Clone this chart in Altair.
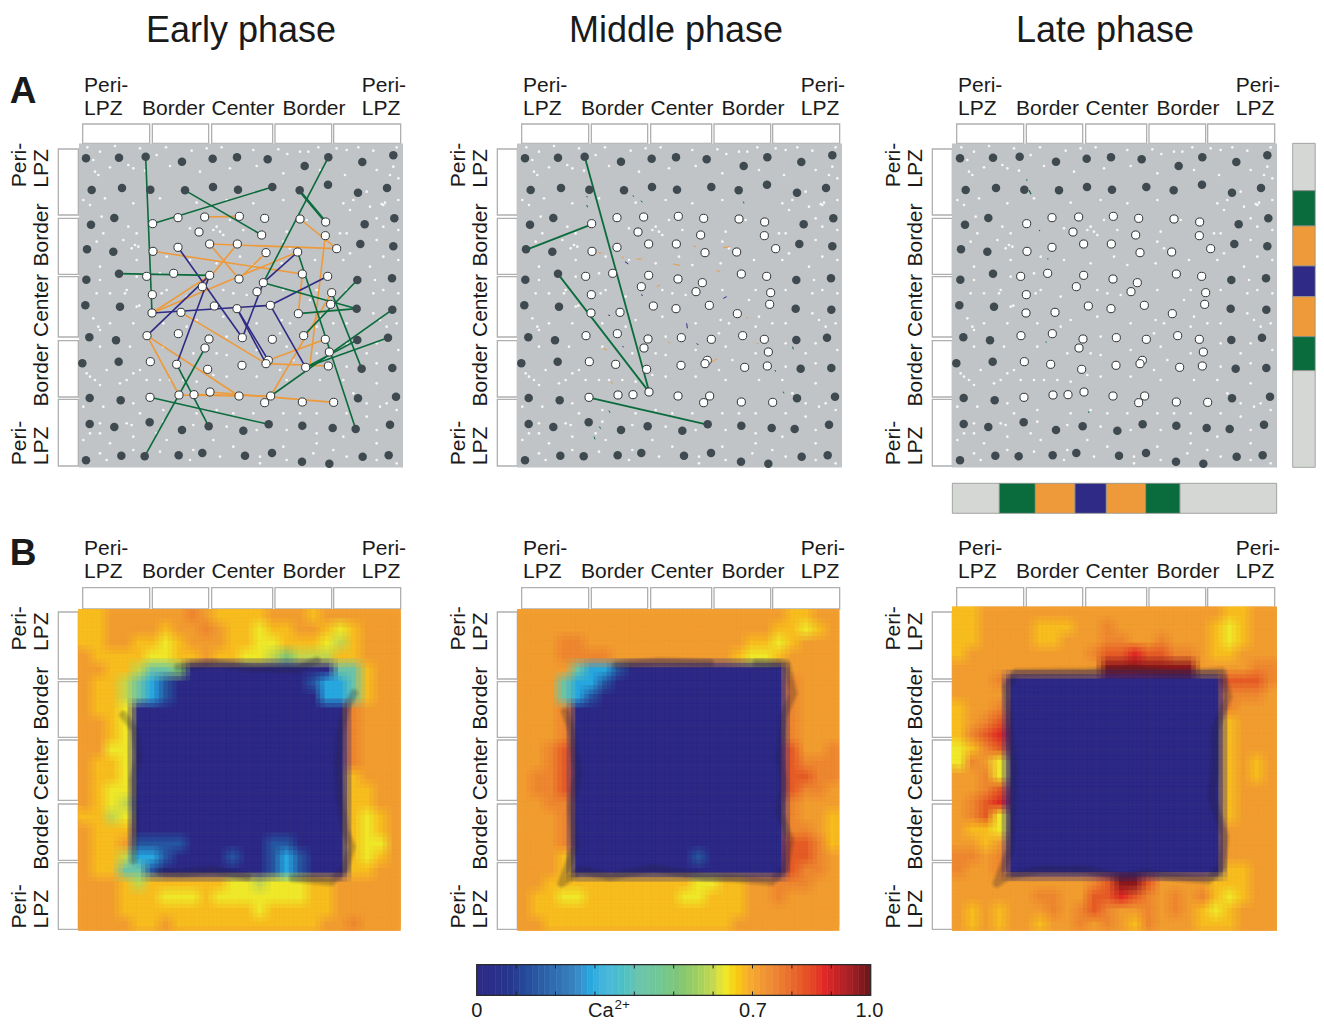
import altair as alt
import pandas as pd

# ---- values (A panels: zoomed reference units) ----
DARK = [(258,295),(357,293),(437,290),(546,305),(638,296),(711,292),(803,298),(914,318),(985,292),(1087,306),(1180,286),
(275,390),(366,384),(451,389),(555,391),(639,381),(714,389),(817,381),(899,391),(984,374),(1074,398),(1161,384),
(273,494),(343,474),(1094,493),(1183,475),(261,568),(340,575),(1081,552),(1180,559),
(259,659),(357,641),(1072,660),(1176,655),(256,736),(360,740),(1070,746),(1177,749),
(268,832),(348,841),(1072,840),(1164,833),(247,910),(356,905),(1085,926),(1177,924),
(269,1014),(362,1021),(1074,1015),(1188,1010),
(269,1092),(343,1101),(449,1087),(546,1110),(626,1099),(730,1112),(806,1093),(907,1097),(998,1104),(1067,1107),(1170,1094),
(258,1201),(364,1187),(434,1189),(536,1186),(607,1179),(735,1187),(816,1179),(906,1205),(988,1211),(1088,1190),(1166,1186)]
WHITE = [(458,491),(534,473),(614,471),(718,469),(794,475),(900,477),(977,486),(597,516),(785,525),(976,527),
(459,574),(534,562),(629,552),(712,552),(798,578),(893,576),(1010,566),
(440,649),(521,640),(629,646),(717,657),(790,668),(907,642),(983,649),(607,680),(771,695),(995,698),(457,704),
(456,759),(543,757),(643,738),(711,746),(811,736),(895,761),(992,733),
(441,827),(535,821),(627,837),(727,833),(817,838),(911,827),(976,838),(615,864),(988,876),
(451,905),(530,913),(623,928),(726,916),(805,901),(798,911),(917,922),(985,918),
(450,1012),(537,1005),(582,1004),(630,996),(717,1008),(812,1008),(794,1028),(907,1026),(1001,1027)]
SPECKS = [(285,335),(295,345),(385,315),(400,325),(280,300),(300,275),(420,265),(470,285),(620,265),(760,270),(900,275),(925,275),
(1010,265),(1040,270),(1150,435),(1155,428),(1145,432),(1170,345),(1180,320),(1110,440),(1060,420),(250,420),(270,435),
(405,555),(395,565),(415,560),(380,690),(375,700),(410,740),(418,737),(300,810),(295,800),(285,960),(270,950),(300,975),
(420,930),(400,940),(380,960),(360,970),(480,960),(640,945),(670,525),(660,515),(640,510),(690,480),(1050,450),(1150,690),
(1140,780),(1160,800),(1120,700),(1100,880),(1130,970),(1160,1030),(1140,1040),(1130,1150),(1100,1070),(1060,1000),(1000,1170),
(940,1180),(850,1160),(780,1190),(700,1160),(640,1140),(580,1170),(500,1140),(470,1120),(400,1130),(300,1120),(270,1120),
(250,1140),(300,1180),(330,1150),(380,1090),(420,1060),(720,590),(850,545),(870,565),(1030,600),(1020,520),(920,480),(845,780),
(870,790),(880,900),(840,930),(930,720),(960,770),(1000,790),(560,800),(500,690),(480,640),(700,700),(680,830),(650,880),
(550,960),(590,1060),(700,1060),(900,1060),(1040,1060),(1030,960),(350,480),(310,520),(410,600),(300,620),(330,700),(290,700),
(1110,620),(1130,540),(1150,500),
(262,262),(345,258),(498,262),(575,272),(665,262),(835,268),(862,282),(955,262),(1075,262),(1120,272),(1190,262),
(330,322),(435,332),(510,318),(600,335),(690,325),(770,318),(850,340),(960,330),(1035,345),(1130,330),(1195,355),
(315,415),(400,430),(480,415),(590,428),(680,420),(760,430),(850,420),(1030,430),(1100,395),(1195,420),
(305,470),(385,500),(410,520),(570,505),(650,500),(730,510),(860,515),(1040,520),(1130,475),(1195,510),
(290,545),(370,540),(500,590),(570,600),(650,610),(760,615),(845,610),(945,600),(1050,580),(1150,590),(1195,600),
(300,660),(410,650),(485,700),(560,710),(670,690),(740,705),(850,690),(950,690),(1040,690),(1125,660),(1195,700),
(280,775),(330,790),(400,790),(490,790),(590,780),(670,770),(770,790),(840,820),(950,800),(1040,790),(1120,760),(1190,790),
(300,860),(390,860),(490,860),(580,880),(680,885),(770,870),(860,860),(950,880),(1040,850),(1130,850),(1195,870),
(260,940),(320,930),(440,960),(510,960),(590,965),(680,950),(770,950),(860,960),(960,960),(1040,920),(1130,910),
(250,1040),(310,1040),(400,1030),(490,1050),(650,1050),(760,1060),(850,1060),(950,1060),(1100,1030),(1190,1050),
(300,1090),(395,1095),(490,1085),(580,1095),(680,1100),(770,1110),(860,1110),(950,1120),(1030,1130),(1130,1110),
(320,1200),(400,1170),(480,1175),(570,1200),(660,1190),(780,1210),(860,1200),(950,1150),(1040,1190),(1130,1200),(1190,1210)]

GREEN, ORANGE, BLUE = "#0a6b3c", "#ee9a3a", "#2e2a86"
GRAYSTRIP = "#d5d7d5"
EARLY_GREEN = [(437,290,456,759),(458,491,817,381),(555,391,785,525),(985,292,790,668),(357,641,629,646),
(790,668,1070,746),(895,761,1070,746),(893,576,1067,1107),(1072,660,911,827),(995,698,1085,926),(812,1008,1177,749),
(917,922,1164,833),(917,922,1072,840),(450,1012,806,1093),(530,913,626,1099),(615,864,434,1189)]
EARLY_GREEN_THICK = [(905,400,977,486)]
EARLY_ORANGE = [(614,471,718,469),(900,477,1010,566),(629,552,1010,566),(629,552,717,657),(712,552,607,680),(798,578,717,657),
(459,574,907,642),(456,759,629,646),(456,759,893,576),(543,757,798,911),(441,827,537,1005),(441,827,717,1008),
(537,1005,717,1008),(630,996,1001,1027),(582,1004,812,1008),(907,642,895,761),(976,527,930,915),(995,698,812,1008),
(805,901,976,838),(798,911,985,918)]
EARLY_BLUE = [(534,562,727,833),(629,646,530,913),(441,827,629,646),(456,759,811,736),(811,736,983,649),(790,668,893,576),
(790,668,727,833),(711,746,805,901),(711,746,798,911),(811,736,917,922)]
MID_GREEN = [(435,293,628,997),(455,493,260,569),(355,643,628,997),(448,1013,802,1094)]
MID_SPECK_ORANGE = [(475,578,485,580),(545,590,552,595),(590,597,605,597),(650,680,660,675),(760,558,768,560),(850,563,870,560),
(700,612,720,616),(830,632,840,634),(490,865,500,870),(512,965,518,972),(685,845,690,850),(815,905,830,897),(920,770,922,775),(950,850,955,852)]
MID_SPECK_BLUE = [(555,605,565,612),(505,765,510,767),(740,790,742,805),(770,850,775,855),(850,715,860,710),(548,858,550,862),(605,703,607,708)]
MID_SPECK_GREEN = [(440,408,442,412),(440,435,443,442),(578,407,582,410),(603,422,607,427),(910,425,912,430),(1058,860,1060,868),
(1030,995,1032,1000),(507,1052,510,1058),(478,1100,482,1106),(462,1130,465,1138),(1005,930,1007,935)]
LATE_SPECK_GREEN = [(440,358,441,362),(447,390,453,403),(625,1055,627,1058),(478,510,479,513),(503,595,504,598),(498,845,499,848)]

# Ca2+ level codes used in the B grids
LEVEL = {'b':0.0,'c':0.15,'d':0.29,'e':0.42,'g':0.52,'h':0.6,'y':0.63,'a':0.675,'o':0.715,'p':0.755,'r':0.82,'s':0.88,'m':0.97}
EARLY_GRID = ["aaoooooopoaaaaoooaoooooo","aaooooaoopoaayaaooayaooo","aaooaayaoooaayyaaayhaooo","oaaaayyaaoaayyhghhhaaooo",
"ooaaheegbbbbbbbbbbbeeaoo","oaahedcbbbbbbbbbbcddeaoo","oaahedcbbbbbbbbbbbddeaoo","oaaybbbbbbbbbbbbbbbbpooo",
"ooaybbbbbbbbbbbbbbbbpooo","ooaybbbbbbbbbbbbbbbbpooo","ooyybbbbbbbbbbbbbbbbpooo","oaaybbbbbbbbbbbbbbbbpooo",
"oaaybbbbbbbbbbbbbbbbaooo","oayybbbbbbbbbbbbbbbbaaoo","oayhbbbbbbbbbbbbbbbbaaoo","aahybbbbbbbbbbbbbbbbayao",
"oaaabbbbbbbbbbbbbbbbayao","oaaoccccbbbbbbccbbbbayyo","oaahddcbbbbcbbcdcbbbayao","oaaeecbbbbbbbbcdcbbbaaoo",
"oooahaaaaaayyhyyyaaooooo","oooaaayyyayyyyyyyaaooooo","oooaaaaaaaaaayaaaaaooooo","ooooaaoaaaaaaaaaaaoopooo"]
MIDDLE_GRID = ["ooooooooooooooooooooaaoo","oooooooooooooooooooaayao","oooppooooooooooooaayaooo","oooppppoooooooooayyaoooo",
"ooooeddcbbbbbbbbbbbboooo","oooeddcbbbbbbbbbbbbbpooo","oooedcbbbbbbbbbbbbbbpooo","ooopbbbbbbbbbbbbbbbbpooo",
"ooopbbbbbbbbbbbbbbbbpooo","ooopbbbbbbbbbbbbbbbbpooo","ooprbbbbbbbbbbbbbbbbroop","ooprbbbbbbbbbbbbbbbbrppp",
"opprbbbbbbbbbbbbbbbbrrpp","opprbbbbbbbbbbbbbbbbrppo","ooppbbbbbbbbbbbbbbbbpooo","ooopbbbbbbbbbbbbbbbbpooa",
"ooopbbbbbbbbbbbbbbbbppoa","ooopbbbbbbbbbbbbbbbbrrpa","oooabbbbbbbbbcbbbbbbrrpo","oooabbbbbbbbbbbbbbbbrppo",
"ooaaaaaaaaaaayyaaoopppoo","oaayyaaaaaaayyaaaoopoooo","oaaaaaaaaaaaaaaaaooooooo","ooaaaaaaaaaaaaaaoooooooo"]
LATE_GRID = ["aaooooooooooooooooooaaoo","aaooooaaaoopoooooooayaoo","aaooooaaoooppoopoooayaoo","aoooooooooprrsrrppoaaooo",
"ooooooooooommmmmmmoooopp","ooopbbbbbbbbbbbbbbbbrrrp","oooobbbbbbbbbbbbbbbbpppo","aoopbbbbbbbbbbbbbbbbpooo",
"aoprbbbbbbbbbbbbbbbbaooo","aprsbbbbbbbbbbbbbbbbaooo","yaprbbbbbbbbbbbbbbbbaooo","ypoybbbbbbbbbbbbbbbbaoao",
"oopybbbbbbbbbbbbbbbbaoao","ooprbbbbbbbbbbbbbbbbaooo","oprsbbbbbbbbbbbbbbbbaooo","oprybbbbbbbbbbbbbbbbaooo",
"oaaybbbbbbbbbbbbbbbboooo","ooaobbbbbbbbbbbbbbbboooo","ppopbbbbbbbbbbbbbbbboooo","poopbbbbbbbbbbbbbbbbaaoo",
"ooooooooooprmmrooooaaaoo","ooooooppoorrsrpopopayaoo","oaoaooopoprpoopopoayaooo","oaoaooaoopopoapoooaaaooo"]

# dark rim of the low-Ca square (zoomed units), one list per unbroken stretch
EARLY_RIM = [[(535,412),(640,400),(760,415),(890,418),(950,392)],
 [(1062,490),(1040,530),(1020,610),(1015,700),(1020,800),(1035,900),(1055,950),(1035,1015),(995,1055),(880,1045)],
 [(740,1040),(640,1020),(540,1030),(480,1025)],
 [(400,990),(405,850),(400,750),(415,680),(405,600),(370,555)]]
MIDDLE_RIM = [[(530,405),(660,395),(810,400)],
 [(950,400),(1040,405),(1060,490),(1030,560),(1020,680),(1030,760),(1020,850),(1050,930),(1035,1015),(995,1055),(880,1045),(790,1040),(640,1015),(510,1040),(420,1020),(365,1060),(405,950),(395,830),(412,730),(395,600),(375,545)]]
LATE_RIM = [[(410,428),(620,425),(750,418),(890,430),(1025,425),(1045,500),(1005,600),(1005,700),(995,800),(1035,920),(1025,1010),(985,1050),(880,1040),(790,1030),(720,1040),(620,1020),(480,1020),(380,1040),(350,1060),(390,960),(395,850),(400,720),(390,600),(380,470),(410,428)]]

CA_STOPS = [0,0.08,0.16,0.25,0.29,0.33,0.42,0.52,0.6,0.63,0.665,0.7,0.75,0.8,0.88,0.95,1.0]
CA_COLORS = ["#2e2a86","#27348b","#2a5ca5","#3a85c0","#27a9e1","#4db8dc","#70c5a8","#84c672","#c4d84f","#f1e92a","#f8c515",
             "#f4a732","#ee8a33","#ea6a2b","#e12a26","#a51f24","#6b1418"]

TOP_BOXES = [(248,449),(457,626),(635,818),(825,995),(1001,1202)]
LEFT_BOXES = [(267,465),(475,643),(650,831),(842,1011),(1018,1218)]
LEFT_BOXES_B = [(246,447),(455,622),(630,811),(822,991),(998,1198)]
STRIP_V = [250,392,498,618,710,830,932,1222]
STRIP_H = [217,358,466,585,679,797,900,1190]
STRIP_COLORS = [GRAYSTRIP,GREEN,ORANGE,BLUE,ORANGE,GREEN,GRAYSTRIP]
PANEL_A = [("Early",79,403),("Middle",517,842),("Late",952,1277)]
PANEL_B = [(78.3,400.7,609.3,930.7,EARLY_GRID,EARLY_RIM,0),(517.3,839.3,609.3,930.7,MIDDLE_GRID,MIDDLE_RIM,440),(952,1277,606.7,930.7,LATE_GRID,LATE_RIM,880)]
TITLES = [("Early phase",241),("Middle phase",676),("Late phase",1105)]
DX_A = [0,439,874]
TOP_LABELS = [("Peri-",84,86,"left"),("LPZ",84,109,"left"),("Border",173.5,109,"center"),("Center",243,109,"center"),("Border",314,109,"center"),("Peri-",361.7,86,"left"),("LPZ",361.7,109,"left")]
LEFT_LABELS = [("Peri-",20,165),("LPZ",41.5,168.5),("Border",41.5,235),("Center",41.5,305.5),("Border",41.5,375),("Peri-",20,443),("LPZ",41.5,446)]
BAR_TICKS = [0.1,0.2,0.3,0.4,0.5,0.6,0.7,0.8,0.9]
BAR_LABELS = [("0",476.7),("0.7",753),("1.0",869.5)]

# ---- scales mapping reference pixels through the plot area ----
xs = alt.Scale(domain=[8,1316], range=[0,1308], nice=False, zero=False)
ys = alt.Scale(domain=[8,1021], range=[0,1013], nice=False, zero=False)
X = alt.X("x:Q", scale=xs, axis=None); Y = alt.Y("y:Q", scale=ys, axis=None)
X2 = alt.X2("x2:Q"); Y2 = alt.Y2("y2:Q")
ca_scale = alt.Scale(domain=CA_STOPS, range=CA_COLORS)
zx = lambda v, dx: v/3 + dx
zy = lambda v, dy=60: v/3 + dy

layers = []
def rects(rows, stroke="#b0b0b0", sw=1.3):
    df = pd.DataFrame(rows, columns=["x","x2","y","y2","c"])
    return alt.Chart(df).mark_rect(stroke=stroke, strokeWidth=sw).encode(x=X, x2=X2, y=Y, y2=Y2, fill=alt.Fill("c:N", scale=None))

boxes = []
for dx in DX_A:
    for a,b in TOP_BOXES:
        boxes.append((zx(a,dx),zx(b,dx),zy(192),zy(250),"#ffffff"))
        boxes.append((zx(a,dx),zx(b,dx),zy(173,530),zy(237,530),"#ffffff"))
    for a,b in LEFT_BOXES:
        boxes.append((zx(175,dx),zx(235,dx),zy(a),zy(b),"#ffffff"))
    for a,b in LEFT_BOXES_B:
        boxes.append((zx(175,dx),zx(235,dx),zy(a,530),zy(b,530),"#ffffff"))
layers.append(rects(boxes))

layers.append(rects([(l,r,143.5,467.5,"#c0c4c6") for _,l,r in PANEL_A], stroke="#c0c4c6", sw=0))

def pts(lst, dx):
    return pd.DataFrame([(zx(a,dx),zy(b)) for a,b in lst], columns=["x","y"])
def segs(lst, dx, color, w):
    return pd.DataFrame([(zx(a,dx),zy(b),zx(c,dx),zy(d),color,w) for a,b,c,d in lst], columns=["x","y","x2","y2","c","w"])

for dx in DX_A:
    layers.append(alt.Chart(pts(SPECKS,dx)).mark_circle(size=7, color="#ffffff", opacity=0.85).encode(x=X, y=Y))

seg_all = pd.concat([
    segs(EARLY_ORANGE,0,ORANGE,1.6), segs(EARLY_BLUE,0,BLUE,1.6), segs(EARLY_GREEN,0,GREEN,1.6), segs(EARLY_GREEN_THICK,0,GREEN,2.6),
    segs(MID_GREEN,440,GREEN,1.8), segs(MID_SPECK_ORANGE,440,ORANGE,1), segs(MID_SPECK_BLUE,440,BLUE,1), segs(MID_SPECK_GREEN,440,GREEN,1),
    segs(LATE_SPECK_GREEN,880,GREEN,1.2)], ignore_index=True)
layers.append(alt.Chart(seg_all).mark_rule().encode(x=X, y=Y, x2=X2, y2=Y2,
    color=alt.Color("c:N", scale=None), strokeWidth=alt.StrokeWidth("w:Q", scale=None)))

for dx in DX_A:
    layers.append(alt.Chart(pts(DARK,dx)).mark_circle(size=72, color="#3f4a50", opacity=1).encode(x=X, y=Y))
    layers.append(alt.Chart(pts(WHITE,dx)).mark_point(size=66, filled=True, fill="#ffffff", stroke="#2f3436", strokeWidth=1, opacity=1).encode(x=X, y=Y))

# B heat panels: the same cells drawn in nine shifted, equally weighted passes, which softens the mosaic
SHIFTS = [(-1/3,-1/3),(0,-1/3),(1/3,-1/3),(-1/3,0),(0,0),(1/3,0),(-1/3,1/3),(0,1/3),(1/3,1/3)]
for l,r,t,b,grid,rim,dx in PANEL_B:
    w=(r-l)/24; h=(b-t)/24
    layers.append(alt.Chart(pd.DataFrame([(l,r,t,b,LEVEL['o'])],columns=["x","x2","y","y2","v"])).mark_rect().encode(
        x=X,x2=X2,y=Y,y2=Y2,fill=alt.Fill("v:Q",scale=ca_scale,legend=None)))
    for n,(sx,sy) in enumerate(SHIFTS):
        cells=[]
        for j,row in enumerate(grid):
            for i,ch in enumerate(row):
                x0=max(l,l+(i+sx)*w); x1=min(r,l+(i+1+sx)*w)
                y0=max(t,t+(j+sy)*h); y1=min(b,t+(j+1+sy)*h)
                cells.append((x0,x1,y0,y1,LEVEL[ch]))
        df=pd.DataFrame(cells,columns=["x","x2","y","y2","v"])
        layers.append(alt.Chart(df).mark_rect(opacity=1/(n+1),strokeWidth=0).encode(x=X,x2=X2,y=Y,y2=Y2,
            fill=alt.Fill("v:Q",scale=ca_scale,legend=None)))
    e=pd.DataFrame([(zx(a,dx),zy(c,530),p,k) for p,path in enumerate(rim) for k,(a,c) in enumerate(path)],columns=["x","y","p","k"])
    for sw,op in [(11,0.08),(8,0.1),(5,0.12)]:
        layers.append(alt.Chart(e).mark_line(strokeWidth=sw,color="#2a2238",opacity=op,strokeJoin="round",strokeCap="round").encode(
            x=X,y=Y,detail="p:N",order=alt.Order("k:Q")))

strip=[]
for k,c in enumerate(STRIP_COLORS):
    strip.append((1292.7,1315.2,zy(STRIP_V[k]),zy(STRIP_V[k+1]),c))
    strip.append((zx(STRIP_H[k],880),zx(STRIP_H[k+1],880),483.3,513.3,c))
layers.append(rects(strip,stroke="#8f938f",sw=0.8))

edges=[i/64 for i in range(65)]
bar=pd.DataFrame([(476.7+394*edges[i],476.7+394*edges[i+1],964.7,995.3,(edges[i]+edges[i+1])/2) for i in range(64)],columns=["x","x2","y","y2","v"])
layers.append(alt.Chart(bar).mark_rect(strokeWidth=0.5).encode(x=X,x2=X2,y=Y,y2=Y2,
    fill=alt.Fill("v:Q",scale=ca_scale,legend=None),stroke=alt.Stroke("v:Q",scale=ca_scale,legend=None)))
layers.append(alt.Chart(pd.DataFrame([(476.7,870.7,964.7,995.3)],columns=["x","x2","y","y2"])).mark_rect(fillOpacity=0,stroke="#2b2b2b",strokeWidth=1.2).encode(x=X,x2=X2,y=Y,y2=Y2))
tk=[]
for v in BAR_TICKS:
    px=476.7+394*v
    tk+= [(px,964.7,968.5),(px,991.5,995.3)]
layers.append(alt.Chart(pd.DataFrame(tk,columns=["x","y","y2"])).mark_rule(color="#1e1e1e",strokeWidth=1).encode(x=X,y=Y,y2=Y2))

FONT="Liberation Sans"; INK="#1a1a1a"
def text(rows, size, align="left", angle=0, weight="normal"):
    df=pd.DataFrame(rows,columns=["x","y","t"])
    return alt.Chart(df).mark_text(font=FONT,fontSize=size,align=align,baseline="middle",angle=angle,fontWeight=weight,color=INK).encode(x=X,y=Y,text="t:N")
layers.append(text([(x,31,t) for t,x in TITLES],36,"center"))
layers.append(text([(23,92,"A"),(23,554,"B")],37,"center",weight="bold"))
for dx in DX_A:
    for dy in (0,463.3):
        for al in ("left","center"):
            rows=[(x+dx,y+dy,t) for t,x,y,a in TOP_LABELS if a==al]
            layers.append(text(rows,21,al))
        layers.append(text([(x+dx,y+dy,t) for t,x,y in LEFT_LABELS],21,"center",angle=270))
layers.append(text([(x,1011,t) for t,x in BAR_LABELS],20,"center"))
layers.append(text([(588,1011,"Ca")],20))
layers.append(text([(614.5,1005,"2+")],13.5))

chart = alt.layer(*layers).properties(width=1308,height=1013,padding=0,
    autosize=alt.AutoSizeParams(type="none")).configure_view(stroke=None)
chart.save("out.html", embed_options={"renderer":"svg","actions":False})
